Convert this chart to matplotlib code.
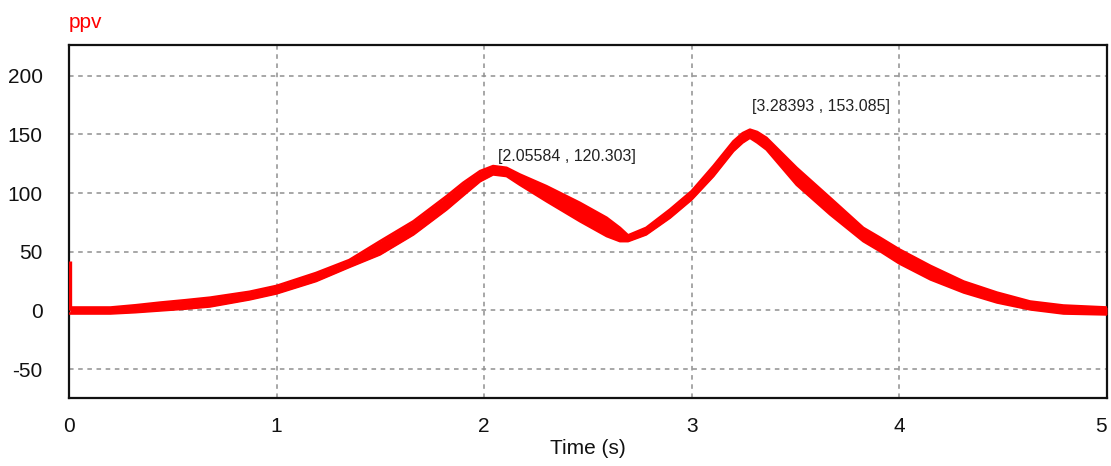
import matplotlib
matplotlib.use("Agg")
import matplotlib.pyplot as plt

# envelope of the ppv trace (outer edges of the oscillating band)
t = [0.004, 0.1, 0.2, 0.32, 0.44, 0.56, 0.68, 0.87, 1.0, 1.19, 1.35, 1.498,
     1.659, 1.819, 1.899, 1.98, 2.043, 2.108, 2.172, 2.30, 2.461, 2.59, 2.654,
     2.693, 2.78, 2.895, 2.999, 3.104, 3.2, 3.245, 3.28, 3.315, 3.36, 3.505,
     3.666, 3.826, 3.907, 4.0, 4.15, 4.31, 4.47, 4.63, 4.79, 5.0]
upper = [2.6, 2.6, 2.6, 4.5, 6.8, 8.8, 11, 16, 21, 32, 43, 59,
         76, 97.4, 108.8, 118.7, 123, 121.5, 115.8, 105.9, 91.7, 79, 70.4,
         64, 70.4, 86, 101.6, 123, 144, 151, 154, 152, 147, 121.5,
         96, 70.4, 62, 52, 38, 24.7, 15.3, 7.7, 4.3, 2.6]
lower = [-2.6, -2.6, -2.6, -1.5, 0, 1.5, 3.4, 9.4, 14.5, 25, 37, 47.7,
         64.7, 86, 98, 110, 115.8, 114.4, 107, 93, 76, 63.3, 59,
         59, 64.7, 79, 94.5, 114.4, 135.7, 143, 147, 143, 137, 107,
         81.8, 59, 50.5, 40, 26.4, 15.3, 6.8, 0.9, -2.6, -3.4]
spike_t = [0.004, 0.004]
spike_v = [0, 42]

markers = [(2.05584, 120.303), (3.28393, 153.085)]
marker_text_pos = [(2.065, 131.5), (3.29, 174)]

xticks = [0, 1, 2, 3, 4, 5]
yticks = [-50, 0, 50, 100, 150, 200]

plt.rcParams['font.family'] = ['Liberation Sans', 'DejaVu Sans']
plt.rcParams['axes.unicode_minus'] = False

fig = plt.figure(figsize=(11.11, 4.66), dpi=100)
ax = fig.add_axes([0.0621, 0.1459, 0.9343, 0.7575])

ax.fill_between(t, lower, upper, color='#ff0000', lw=0, zorder=3)
ax.plot(t, upper, color='#ff0000', lw=1.8, zorder=3, solid_joinstyle='round')
ax.plot(t, lower, color='#ff0000', lw=1.8, zorder=3, solid_joinstyle='round')
ax.plot(spike_t, spike_v, color='#ff0000', lw=2.4, zorder=3, solid_capstyle='butt')

for (mx, my), (tx, ty) in zip(markers, marker_text_pos):
    ax.text(tx, ty, f"[{mx:.5f} , {my:.3f}]", fontsize=11.5, color='#222222',
            ha='left', va='center', zorder=4)

ax.set_xlim(0, 5)
ax.set_ylim(-74.5, 226)
ax.set_xticks(xticks)
ax.set_yticks(yticks)
ax.tick_params(axis='both', length=0, labelsize=15, colors='#111111')
ax.tick_params(axis='y', pad=19)
ax.tick_params(axis='x', pad=14)
ax.get_xticklabels()[-1].set_horizontalalignment('right')
ax.grid(True, color='#909090', linestyle=(0, (3, 3)), lw=1.1, zorder=1)
for s in ax.spines.values():
    s.set_color('#111111')
    s.set_linewidth(1.6)

ax.set_xlabel('Time (s)', fontsize=15, color='#111111', labelpad=2)
fig.text(69 / 1111, 1 - 22 / 466, 'ppv', color='#ff0000', fontsize=15,
         ha='left', va='center')

fig.savefig('out.png', dpi=100)
